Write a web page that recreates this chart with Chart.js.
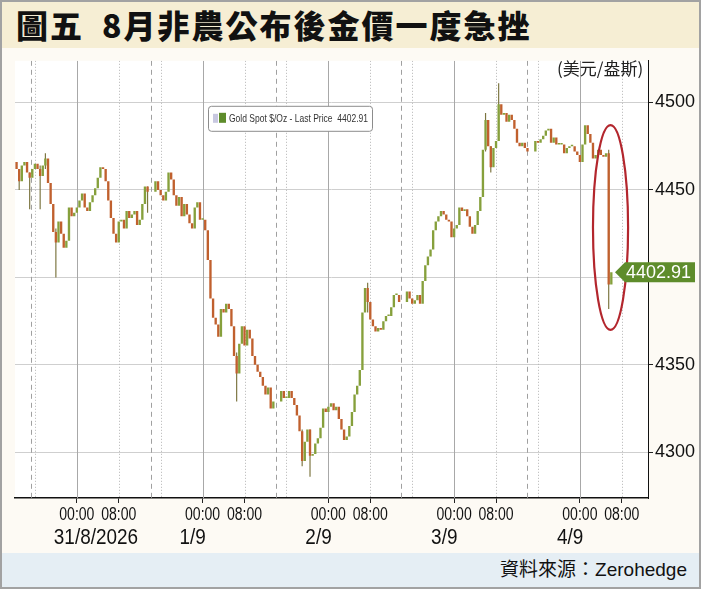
<!DOCTYPE html>
<html><head><meta charset="utf-8">
<script src="https://cdn.jsdelivr.net/npm/chart.js@4.4.1/dist/chart.umd.min.js"></script>
<style>
html,body{margin:0;padding:0;background:#fff;}
body{width:701px;height:600px;position:relative;overflow:hidden;}
#band{position:absolute;left:2px;top:2px;width:697px;height:46px;background:#f6eed4;}
#title{position:absolute;left:16px;top:7px;font-family:"Noto Sans CJK TC","Noto Sans CJK SC",sans-serif;font-weight:900;font-size:32px;line-height:34px;color:#111;white-space:pre;letter-spacing:2px;}
#chartbox{position:absolute;left:0;top:48px;width:701px;height:505px;background:#fdfaf4;}
#foot{position:absolute;left:2px;top:553px;width:697px;height:34px;background:#e5eef4;}
#src{position:absolute;right:14px;top:557px;font-family:"Liberation Sans","Noto Sans CJK TC",sans-serif;font-size:19px;line-height:26px;color:#111;}
#unit{position:absolute;left:557px;top:57px;font-family:"Noto Sans CJK TC",sans-serif;font-size:17px;line-height:22px;color:#222;white-space:pre;}
#frame{position:absolute;left:0;top:0;width:701px;height:589px;box-sizing:border-box;border:2px solid #a2a2a2;pointer-events:none;}
</style></head>
<body>
<div id="band"></div>
<div id="title">圖五&#8194;8月非農公布後金價一度急挫</div>
<div id="chartbox"><canvas id="c"></canvas></div>
<div id="unit">(美元/盎斯)</div>
<div id="foot"></div>
<div id="src">資料來源：Zerohedge</div>
<div id="frame"></div>
<script>
// ---- data (30-minute closes, null = session break) ----
const firstHour = -11.5;      // hours relative to 31/8 00:00
const stepHours = 0.5;
const startOpen = 4466;
const closes = [
 4462,4455,4464,4466,4460,4457,4462,4465,4462,4458,
 4464,4468,4454,4442,4426,4420,4432,4425,4417,4421,
 4440,4435,4437,4440,4444,4448,4440,4438,4443,4447,
 4451,4457,4463,4462,4455,4444,4434,4425,4420,4432,
 4433,4428,4438,4434,4436,4438,4430,4433,4442,4452,
 4449,null,null,4455,4450,4447,4444,4449,4460,4456,
 4447,4441,4446,4435,4442,4436,4431,4428,4440,4443,
 4433,4433,4427,4410,4388,4377,4373,4366,4382,4380,
 4385,4382,4372,4355,4345,4362,4372,4361,4370,4365,
 4355,4350,4346,4343,4338,4333,4337,4325,4329,null,
 null,4335,4331,4331,4335,4331,4327,4321,4312,4295,
 4306,4313,4298,4299,4305,4308,4314,4325,4323,4326,
 4328,4324,4326,4319,4313,4307,4309,4315,4323,4333,
 4338,4347,4380,4394,4386,4376,4372,4369,4371,4370,
 4375,4378,4378,4383,4390,4390,4386,null,null,4392,
 4388,4385,4387,4390,4385,4398,4407,4412,4416,4427,
 4432,4435,4438,4436,4433,4432,4423,4428,4430,4440,
 4438,4439,4435,4429,4425,4430,4438,4446,4473,4490,
 4475,4463,4474,4478,4499,4493,4494,4489,4493,4490,
 4485,4477,4475,4477,4474,4472,null,null,4478,4477,
 4479,4481,4484,4485,4477,4480,4476,4476,4476,4471,
 4474,4475,4475,4472,4470,4466,4476,4487,4482,4477,
 4468,4470,4473,4470,4469,4471,4396,4402.91
];
const spikeIdx = [1,5,9,11,15,50,84,109,112,134,179,181,184,226];
const spikeLo  = [4450,4439,4439,4462,4400,4437,4329,4292,4286,4380,4472,4460,4478,4382];
const spikeHi  = [4462,4460,4464,4471,4428,4452,4357,4313,4313,4397,4494,4475,4511,4473];
const sessionBreaks = [-8.8,14.1,38.0,61.8,85.9];
const dayStarts = [0,24,48,72,96];
const dayLabels = ['31/8/2026','1/9','2/9','3/9','4/9'];
const xTickHours = [0,8,24,32,48,56,72,80,96,104];
const minorGridHours = [-8,8,16,32,40,56,64,80,88,104];
const yTicks = [4300,4350,4400,4450,4500];
const lastPrice = 4402.91;
const seriesName = 'Gold Spot $/Oz - Last Price';
const highlight = {fromHour:98.5, toHour:105.2, low:4370, high:4487};

// ---- build datasets ----
const UP='#86a03c', DOWN='#c0602e';
const bodies=[], bodyColors=[];
let prev=startOpen;
closes.forEach((c,i)=>{
  if(c===null) return;
  bodies.push({x:firstHour+i*stepHours, y:[prev,c]});
  bodyColors.push(c>=prev?UP:DOWN);
  prev=c;
});
const wicks = spikeIdx.map((i,k)=>({x:firstHour+i*stepHours, y:[spikeLo[k],spikeHi[k]]}));

const REG="'Liberation Sans',Arial,sans-serif";

function condensedText(ctx, txt, x, y, sx, align){
  ctx.save();
  ctx.translate(x,y); ctx.scale(sx,1);
  ctx.textAlign=align; ctx.fillText(txt,0,0);
  ctx.restore();
}

const decor = {
  id:'decor',
  beforeDraw(chart){
    const {ctx,chartArea:a}=chart;
    ctx.save(); ctx.fillStyle='#fff'; ctx.fillRect(a.left,a.top,a.right-a.left,a.bottom-a.top); ctx.restore();
  },
  beforeDatasetsDraw(chart){
    const {ctx,chartArea:a,scales:{x}}=chart;
    ctx.save();
    ctx.beginPath(); ctx.rect(a.left,a.top,a.right-a.left,a.bottom-a.top); ctx.clip();
    const vline=(h,color,dash,w)=>{
      const px=Math.round(x.getPixelForValue(h))+0.5;
      ctx.strokeStyle=color; ctx.lineWidth=w; ctx.setLineDash(dash);
      ctx.beginPath(); ctx.moveTo(px,a.top); ctx.lineTo(px,a.bottom); ctx.stroke();
    };
    minorGridHours.forEach(h=>vline(h,'#b4b4b4',[1,2],1));
    dayStarts.forEach(h=>vline(h,'#a8a8a8',[],1));
    sessionBreaks.forEach(h=>vline(h,'#a0a0a0',[5,4],1));
    ctx.restore();
  },
  afterDraw(chart){
    const {ctx,chartArea:a,scales:{x,y}}=chart;
    ctx.save();
    ctx.fillStyle='#111'; ctx.textBaseline='middle';
    // x tick labels (condensed)
    ctx.font="18px "+REG;
    x.ticks.forEach(t=>condensedText(ctx, t.label, x.getPixelForValue(t.value), a.bottom+17, 0.78, 'center'));
    // date labels
    ctx.font="22px "+REG;
    dayStarts.forEach((h,i)=>condensedText(ctx, dayLabels[i], x.getPixelForValue(h)-23, a.bottom+40, 0.86, 'left'));
    // highlight ellipse
    const x0=x.getPixelForValue(highlight.fromHour), x1=x.getPixelForValue(highlight.toHour);
    const y0=y.getPixelForValue(highlight.high), y1=y.getPixelForValue(highlight.low);
    ctx.strokeStyle='#b3262d'; ctx.lineWidth=2.2;
    ctx.beginPath(); ctx.ellipse((x0+x1)/2,(y0+y1)/2,(x1-x0)/2,(y1-y0)/2,0,0,Math.PI*2); ctx.stroke();
    // last price tag
    const ty=y.getPixelForValue(lastPrice);
    const tip=a.right-33;
    ctx.fillStyle='#5e8c2b';
    ctx.beginPath(); ctx.moveTo(tip,ty); ctx.lineTo(tip+10,ty-10); ctx.lineTo(tip+80,ty-10); ctx.lineTo(tip+80,ty+10); ctx.lineTo(tip+10,ty+10); ctx.closePath(); ctx.fill();
    ctx.fillStyle='#fff'; ctx.font="18px "+REG; ctx.textAlign='left';
    ctx.fillText(lastPrice.toFixed(2), tip+11, ty+1);
    // legend box
    const lx=a.left+193, ly=a.top+45, lw=164, lh=25;
    ctx.fillStyle='#fff'; ctx.strokeStyle='#8c8c8c'; ctx.lineWidth=1;
    ctx.beginPath(); ctx.roundRect(lx+0.5,ly+0.5,lw,lh,3); ctx.fill(); ctx.stroke();
    ctx.fillStyle='#c8c8e0'; ctx.fillRect(lx+5,ly+8,5,9);
    ctx.fillStyle='#5e8c2b'; ctx.fillRect(lx+11,ly+7,7,10);
    ctx.fillStyle='#333'; ctx.font="11px "+REG;
    const txt=seriesName+'  '+lastPrice.toFixed(2);
    const w=ctx.measureText(txt).width;
    condensedText(ctx, txt, lx+21, ly+13, 139/w, 'left');
    ctx.restore();
  }
};

new Chart(document.getElementById('c'),{
  type:'bar',
  data:{datasets:[
    {data:bodies, backgroundColor:bodyColors, borderWidth:0, grouped:false, barPercentage:0.9, categoryPercentage:1, minBarLength:1.5, order:0},
    {data:wicks, backgroundColor:'#7c7540', borderWidth:0, grouped:false, barPercentage:0.45, categoryPercentage:1, order:1}
  ]},
  options:{
    responsive:true, maintainAspectRatio:false, animation:false,
    layout:{padding:{left:15,top:9,right:0,bottom:0}},
    plugins:{legend:{display:false}, tooltip:{enabled:false}},
    scales:{
      x:{type:'linear', min:-11.8, max:109, offset:false,
        afterBuildTicks:s=>{s.ticks=xTickHours.map(v=>({value:v}));},
        afterFit:s=>{s.height=55;},
        grid:{drawOnChartArea:false, offset:false, tickLength:5, tickColor:'#222', tickWidth:1},
        border:{display:true, color:'#111', width:1.5},
        ticks:{display:false, autoSkip:false, maxRotation:0,
          callback:v=> (v%24===0?'00:00':'08:00')}
      },
      y:{type:'linear', position:'right', min:4273.9, max:4523.8,
        afterBuildTicks:s=>{s.ticks=yTicks.map(v=>({value:v}));},
        afterFit:s=>{s.width=53;},
        grid:{color:'#cfcfcf', lineWidth:1, tickLength:5, tickColor:'#222'},
        border:{display:true, color:'#111', width:1},
        ticks:{padding:2, color:'#111', font:{family:REG, size:18}, callback:v=>String(v)}
      }
    }
  },
  plugins:[decor]
});
</script>
</body></html>
